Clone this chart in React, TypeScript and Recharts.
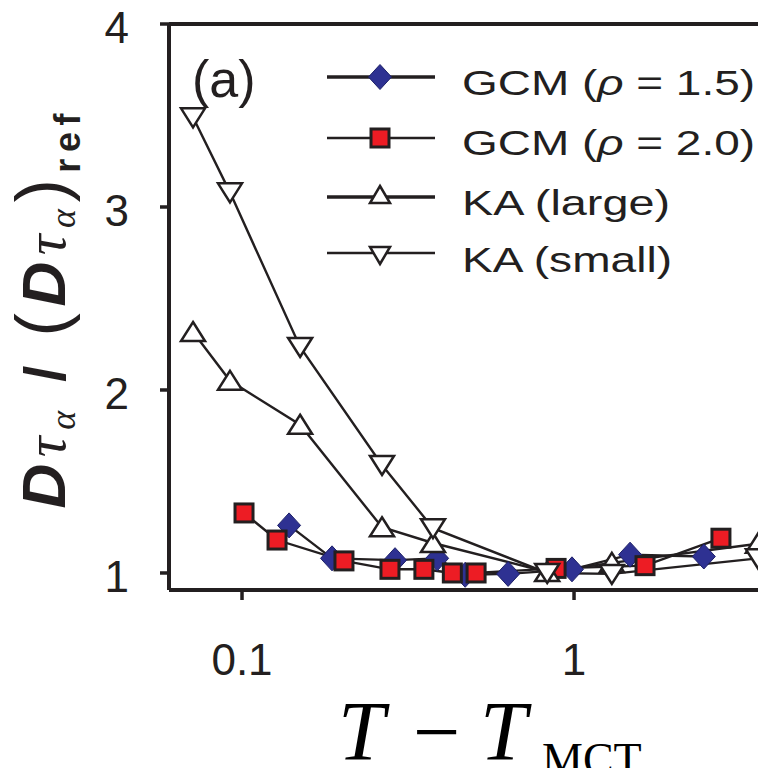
import React from 'react';
import { LineChart, Line, XAxis, YAxis, ReferenceLine } from 'recharts';

// ---- data (T - T_MCT, D*tau / (D*tau)_ref) ----
const kaT = [0.0712, 0.092, 0.1496, 0.264, 0.376, 0.83, 1.3, 3.58];
const kaLargeY = [2.317, 2.05, 1.81, 1.25, 1.164, 1.005, 1.055, 1.16];
const kaSmallY = [3.49, 3.08, 2.235, 1.59, 1.245, 1.0, 0.995, 1.08];
const gcm15T = [0.1386, 0.1867, 0.289, 0.387, 0.47, 0.633, 0.986, 1.475, 2.46];
const gcm15Y = [1.26, 1.08, 1.07, 1.08, 0.99, 0.995, 1.02, 1.1, 1.09];
const gcm20T = [0.1014, 0.1275, 0.2028, 0.279, 0.353, 0.43, 0.507, 0.883, 1.636, 2.77];
const gcm20Y = [1.328, 1.18, 1.066, 1.02, 1.02, 1.0, 1.0, 1.025, 1.04, 1.19];
const xTicks = [0.1, 1];
const yTicks = [1, 2, 3, 4];
const seriesNames = ['GCM (\u03c1 = 1.5)', 'GCM (\u03c1 = 2.0)', 'KA (large)', 'KA (small)'];

const toPts = (xs: number[], ys: number[]) => xs.map((x, i) => ({ x, y: ys[i] }));
const gcm15 = toPts(gcm15T, gcm15Y);
const gcm20 = toPts(gcm20T, gcm20Y);
const kaLarge = toPts(kaT, kaLargeY);
const kaSmall = toPts(kaT, kaSmallY);

const INK = '#231f20';
const BLUE = '#2e3192';
const RED = '#ed1c24';

const diamondPath = (cx: number, cy: number) =>
  `M${cx},${cy - 12.5} L${cx + 11.5},${cy} L${cx},${cy + 12.5} L${cx - 11.5},${cy} Z`;
const upTri = (cx: number, cy: number) =>
  `M${cx},${cy - 10} L${cx + 12},${cy + 9} L${cx - 12},${cy + 9} Z`;
const downTri = (cx: number, cy: number) =>
  `M${cx},${cy + 10} L${cx + 12},${cy - 9} L${cx - 12},${cy - 9} Z`;

const DiamondDot = (p: any) =>
  p.cx == null ? null : (
    <path key={`d${p.index}`} d={diamondPath(p.cx, p.cy)} fill={BLUE} stroke="#1d2068" strokeWidth={1} />
  );
const SquareDot = (p: any) =>
  p.cx == null ? null : (
    <rect key={`s${p.index}`} x={p.cx - 9} y={p.cy - 9} width={18} height={18} fill={RED} stroke={INK} strokeWidth={3} />
  );
const UpDot = (p: any) =>
  p.cx == null ? null : (
    <path key={`u${p.index}`} d={upTri(p.cx, p.cy)} fill="#fff" stroke={INK} strokeWidth={2.5} strokeLinejoin="miter" />
  );
const DownDot = (p: any) =>
  p.cx == null ? null : (
    <path key={`w${p.index}`} d={downTri(p.cx, p.cy)} fill="#fff" stroke={INK} strokeWidth={2.5} strokeLinejoin="miter" />
  );

const XTick = (p: any) => (
  <text x={p.x} y={p.y + 73} textAnchor="middle" fontFamily="Liberation Sans, Arial, sans-serif" fontSize={44} fill={INK}>
    {p.payload.value}
  </text>
);
const YTick = (p: any) => (
  <text x={p.x} y={p.y + 19} textAnchor="end" fontFamily="Liberation Sans, Arial, sans-serif" fontSize={44} fill={INK}>
    {p.payload.value}
  </text>
);

const W = 758;
const H = 760;

export default function App() {
  const legendRows = [
    { y: 69, tb: 87, w: 3.5, mk: 'd', len: 293 },
    { y: 130, tb: 147, w: 2.5, mk: 's', len: 293 },
    { y: 189, tb: 207, w: 3.5, mk: 'u', len: 208 },
    { y: 245, tb: 264, w: 2.5, mk: 'w', len: 210 },
  ];
  return (
    <div style={{ position: 'relative', width: W, height: H }}>
      <LineChart width={W} height={H} margin={{ top: 16, right: 0, bottom: 78, left: 0 }}>
        <XAxis
          type="number"
          dataKey="x"
          scale="log"
          domain={[0.06027, 3.786]}
          allowDataOverflow
          ticks={xTicks}
          tick={XTick}
          tickSize={10}
          tickLine={{ stroke: INK, strokeWidth: 3.5 }}
          axisLine={{ stroke: INK, strokeWidth: 4 }}
          height={100}
        />
        <YAxis
          type="number"
          dataKey="y"
          domain={[0.907, 4]}
          allowDataOverflow
          ticks={yTicks}
          tick={YTick}
          tickSize={9}
          tickMargin={31}
          tickLine={{ stroke: INK, strokeWidth: 3.5 }}
          axisLine={{ stroke: INK, strokeWidth: 4 }}
          width={161}
        />
        <ReferenceLine y={4} stroke={INK} strokeWidth={4} />
        <Line data={gcm15} dataKey="y" name={seriesNames[0]} type="linear" stroke={INK} strokeWidth={2.4} dot={DiamondDot} activeDot={false} isAnimationActive={false} />
        <Line data={gcm20} dataKey="y" name={seriesNames[1]} type="linear" stroke={INK} strokeWidth={2.4} dot={SquareDot} activeDot={false} isAnimationActive={false} />
        <Line data={kaLarge} dataKey="y" name={seriesNames[2]} type="linear" stroke={INK} strokeWidth={2.4} dot={UpDot} activeDot={false} isAnimationActive={false} />
        <Line data={kaSmall} dataKey="y" name={seriesNames[3]} type="linear" stroke={INK} strokeWidth={2.4} dot={DownDot} activeDot={false} isAnimationActive={false} />
      </LineChart>
      <svg
        width={W}
        height={H}
        style={{ position: 'absolute', left: 0, top: 0, overflow: 'visible', pointerEvents: 'none' }}
      >
        {/* panel tag */}
        <text x={184} y={89} fontFamily="Liberation Sans, Arial, sans-serif" fontSize={52} fill={INK}>
          (a)
        </text>
        {/* legend */}
        {legendRows.map((r, i) => (
          <g key={i}>
            <line x1={319} x2={427} y1={r.y} y2={r.y} stroke={INK} strokeWidth={r.w} />
            {r.mk === 'd' && <path d={diamondPath(372, r.y)} fill={BLUE} stroke="#1d2068" strokeWidth={1} />}
            {r.mk === 's' && <rect x={363} y={r.y - 9} width={18} height={18} fill={RED} stroke={INK} strokeWidth={3} />}
            {r.mk === 'u' && <path d={`M372,${r.y - 11} L382,${r.y + 6} L362,${r.y + 6} Z`} fill="#fff" stroke={INK} strokeWidth={2.5} />}
            {r.mk === 'w' && <path d={`M372,${r.y + 11} L382,${r.y - 6} L362,${r.y - 6} Z`} fill="#fff" stroke={INK} strokeWidth={2.5} />}
            <text
              x={454}
              y={r.tb}
              fontFamily="Liberation Sans, Arial, sans-serif"
              fontSize={35}
              fill={INK}
              textLength={r.len}
              lengthAdjust="spacingAndGlyphs"
            >
              {i < 2 ? (
                <>
                  <tspan>{seriesNames[i].split('\u03c1')[0]}</tspan>
                  <tspan fontStyle="italic">{'\u03c1'}</tspan>
                  <tspan>{seriesNames[i].split('\u03c1')[1]}</tspan>
                </>
              ) : (
                seriesNames[i]
              )}
            </text>
          </g>
        ))}
        {/* y-axis title */}
        <text
          transform="rotate(-90)"
          x={-303}
          y={57}
          textAnchor="middle"
          fontFamily="Liberation Sans, Arial, sans-serif"
          fill={INK}
          textLength={395}
          lengthAdjust="spacing"
        >
          <tspan fontWeight="bold" fontStyle="italic" fontSize={62}>D</tspan>
          <tspan fontStyle="italic" fontSize={58} fontFamily="Liberation Serif, serif">{'\u03c4'}</tspan>
          <tspan fontStyle="italic" fontSize={36} dy={10} fontFamily="Liberation Serif, serif">{'\u03b1'}</tspan>
          <tspan fontWeight="bold" fontSize={58} dy={-10}>{' / '}</tspan>
          <tspan fontSize={70}>(</tspan>
          <tspan fontWeight="bold" fontStyle="italic" fontSize={62}>D</tspan>
          <tspan fontStyle="italic" fontSize={58} fontFamily="Liberation Serif, serif">{'\u03c4'}</tspan>
          <tspan fontStyle="italic" fontSize={36} dy={10} fontFamily="Liberation Serif, serif">{'\u03b1'}</tspan>
          <tspan fontSize={70} dy={-10}>)</tspan>
          <tspan fontWeight="bold" fontSize={36} dy={15}>ref</tspan>
        </text>
        {/* x-axis title */}
        <text y={752} fontFamily="Liberation Serif, 'Times New Roman', serif" fontSize={84} fill="#000">
          <tspan x={330} fontStyle="italic">T</tspan>
          <tspan x={405}>{'\u2212'}</tspan>
          <tspan x={472} fontStyle="italic">T</tspan>
          <tspan x={534} fontSize={46} dy={15}>MCT</tspan>
        </text>
      </svg>
    </div>
  );
}
